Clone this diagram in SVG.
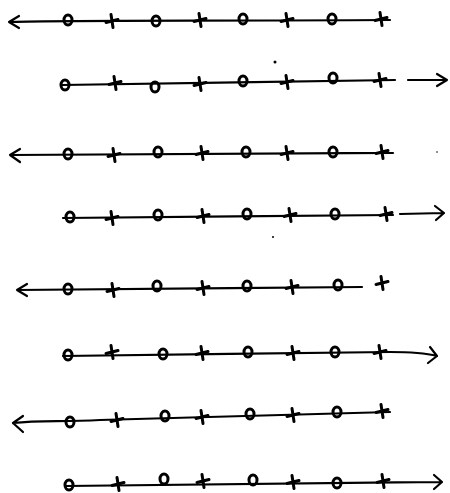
<svg xmlns="http://www.w3.org/2000/svg" width="450" height="493" viewBox="0 0 450 493">
<style>
.ln{fill:none;stroke:#000;stroke-width:2.2;stroke-linecap:round;stroke-linejoin:round}
.o{fill:none;stroke:#000;stroke-width:3}
.x{fill:none;stroke:#000;stroke-width:3;stroke-linecap:round}
</style>
<defs>
<g id="O"><ellipse cx="0" cy="0" rx="4" ry="5" class="o"/></g>
<g id="X"><path d="M-6,1.5 L6,-1.5 M-1,-6.5 L1,6.5" class="x"/></g>
</defs>
<rect width="450" height="493" fill="#fff"/>
<g id="row1">
<path class="ln" d="M9,22 C40,20 200,21 390,20 M9,22 L19,16 M9,22 L19,28"/>
<use href="#O" x="68" y="20"/><use href="#X" x="112" y="21"/><use href="#O" x="156" y="21"/><use href="#X" x="200" y="20"/><use href="#O" x="243" y="19"/><use href="#X" x="287" y="20"/><use href="#O" x="332" y="19"/><use href="#X" x="381" y="19"/>
</g>
<g id="row2">
<path class="ln" d="M62,85 C150,84 300,81 395,80"/>
<path class="ln" d="M408,80 L447,80 M447,80 L437,74 M447,80 L437,86"/>
<circle cx="275" cy="62" r="1.5" fill="#000"/>
<use href="#O" x="65" y="85"/><use href="#X" x="115" y="83"/><use href="#O" x="155" y="87"/><use href="#X" x="200" y="84"/><use href="#O" x="243" y="81"/><use href="#X" x="287" y="82"/><use href="#O" x="333" y="78"/><use href="#X" x="380" y="80"/>
</g>
<g id="row3">
<path class="ln" d="M10,155 C100,154 250,153 393,153 M10,155 L20,149 M10,155 L20,162"/>
<circle cx="437" cy="152" r="0.8" fill="#000"/>
<use href="#O" x="68" y="154"/><use href="#X" x="114" y="155"/><use href="#O" x="158" y="152"/><use href="#X" x="202" y="153"/><use href="#O" x="246" y="152"/><use href="#X" x="287" y="153"/><use href="#O" x="333" y="152"/><use href="#X" x="382" y="152"/>
</g>
<g id="row4">
<path class="ln" d="M63,218 C150,217 300,216 393,215"/>
<path class="ln" d="M400,214 L444,213 M444,213 L435,206 M444,213 L436,220"/>
<circle cx="273" cy="237" r="1" fill="#000"/>
<use href="#O" x="70" y="217"/><use href="#X" x="112" y="218"/><use href="#O" x="158" y="215"/><use href="#X" x="203" y="216"/><use href="#O" x="247" y="214"/><use href="#X" x="290" y="215"/><use href="#O" x="335" y="214"/><use href="#X" x="386" y="214"/>
</g>
<g id="row5">
<path class="ln" d="M17,290 C100,289 250,288 362,287 M17,290 L27,284 M17,290 L27,296"/>
<use href="#O" x="68" y="289"/><use href="#X" x="113" y="290"/><use href="#O" x="157" y="286"/><use href="#X" x="203" y="288"/><use href="#O" x="247" y="286"/><use href="#X" x="292" y="287"/><use href="#O" x="338" y="285"/><use href="#X" x="382" y="283"/>
</g>
<g id="row6">
<path class="ln" d="M63,356 C150,355 300,353 390,352 C410,352 425,353 437,356 M437,356 L430,347 M437,356 L428,363"/>
<use href="#O" x="68" y="355"/><use href="#X" x="112" y="352"/><use href="#O" x="163" y="354"/><use href="#X" x="202" y="353"/><use href="#O" x="248" y="352"/><use href="#X" x="293" y="353"/><use href="#O" x="335" y="352"/><use href="#X" x="380" y="352"/>
</g>
<g id="row7">
<path class="ln" d="M13,423 C40,420 60,422 100,420 C200,417 300,414 390,412 M13,423 L23,416 M13,423 L23,432"/>
<use href="#O" x="70" y="422"/><use href="#X" x="117" y="420"/><use href="#O" x="165" y="416"/><use href="#X" x="202" y="417"/><use href="#O" x="250" y="414"/><use href="#X" x="293" y="415"/><use href="#O" x="337" y="412"/><use href="#X" x="382" y="411"/>
</g>
<g id="row8">
<path class="ln" d="M66,486 C150,485 300,483 442,482 M442,482 L434,475 M442,482 L434,489"/>
<use href="#O" x="69" y="485"/><use href="#X" x="118" y="484"/><use href="#O" x="164" y="479"/><use href="#X" x="203" y="481"/><use href="#O" x="253" y="480"/><use href="#X" x="293" y="482"/><use href="#O" x="337" y="483"/><use href="#X" x="383" y="481"/>
</g>
</svg>
